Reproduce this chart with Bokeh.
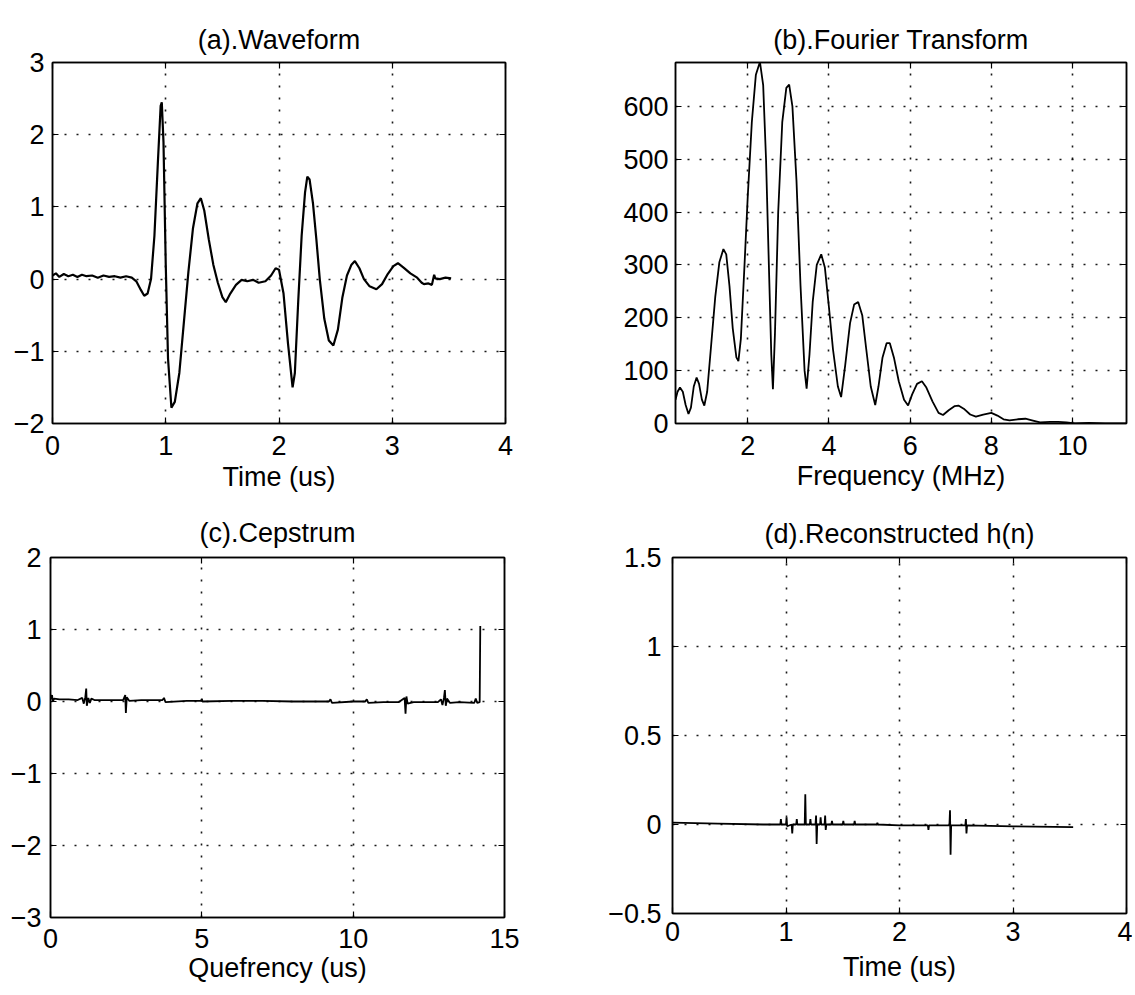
from bokeh.plotting import figure
from bokeh.layouts import column, row
from bokeh.models import Range1d, LinearAxis, FixedTicker
from bokeh.embed import file_html
from bokeh.resources import INLINE

FONT = "Liberation Sans"

# ---------------- (a) Waveform ----------------
wave_t = [0.00, 0.03, 0.06, 0.10, 0.14, 0.18, 0.22, 0.26, 0.30, 0.35, 0.40, 0.45, 0.50, 0.55,
          0.60, 0.65, 0.70, 0.74, 0.78, 0.81, 0.84, 0.87, 0.90, 0.93, 0.955, 0.965, 0.98, 1.00, 1.02,
          1.05, 1.08, 1.12, 1.16, 1.20, 1.24, 1.28, 1.31, 1.34, 1.38, 1.42, 1.46, 1.50, 1.53,
          1.57, 1.62, 1.67, 1.72, 1.77, 1.82, 1.88, 1.93, 1.97, 2.00, 2.04, 2.08, 2.12, 2.14,
          2.17, 2.20, 2.23, 2.25, 2.27, 2.30, 2.33, 2.36, 2.40, 2.44, 2.48, 2.52, 2.56, 2.60, 2.64,
          2.67, 2.71, 2.75, 2.80, 2.86, 2.91, 2.96, 3.01, 3.05, 3.10, 3.16, 3.22, 3.26, 3.28,
          3.32, 3.35, 3.37, 3.38, 3.42, 3.47, 3.52]
wave_v = [0.05, 0.08, 0.03, 0.07, 0.04, 0.06, 0.03, 0.06, 0.04, 0.05, 0.02, 0.05, 0.03, 0.04,
          0.02, 0.04, 0.02, -0.03, -0.15, -0.23, -0.20, 0.00, 0.60, 1.60, 2.40, 2.45, 1.90, 0.20, -1.10,
          -1.78, -1.70, -1.30, -0.60, 0.10, 0.70, 1.05, 1.12, 0.95, 0.55, 0.20, -0.05, -0.25, -0.32,
          -0.20, -0.08, -0.01, -0.03, -0.01, -0.05, -0.03, 0.05, 0.15, 0.13, -0.20, -0.90, -1.50, -1.30,
          -0.30, 0.60, 1.20, 1.42, 1.38, 1.05, 0.55, 0.00, -0.55, -0.85, -0.92, -0.70, -0.25, 0.05, 0.20,
          0.25, 0.15, 0.00, -0.10, -0.14, -0.07, 0.07, 0.18, 0.22, 0.16, 0.08, 0.02, -0.05, -0.07,
          -0.06, -0.08, 0.06, 0.01, 0.00, 0.02, 0.01]

# ---------------- (b) Fourier Transform ----------------
freq = [0.22, 0.27, 0.33, 0.40, 0.47, 0.54, 0.60, 0.67, 0.74, 0.80, 0.87, 0.93, 1.00, 1.10,
        1.20, 1.30, 1.40, 1.47, 1.55, 1.63, 1.72, 1.77, 1.83, 1.92, 2.00, 2.10, 2.20, 2.30,
        2.38, 2.45, 2.52, 2.58, 2.62, 2.67, 2.75, 2.85, 2.95, 3.02, 3.10, 3.20, 3.30, 3.40,
        3.45, 3.52, 3.60, 3.70, 3.81, 3.90, 4.00, 4.10, 4.22, 4.30, 4.40, 4.52, 4.62, 4.72,
        4.82, 4.92, 5.03, 5.14, 5.22, 5.32, 5.42, 5.50, 5.60, 5.72, 5.85, 5.95, 6.05, 6.17,
        6.29, 6.40, 6.55, 6.70, 6.81, 6.95, 7.10, 7.19, 7.32, 7.48, 7.62, 7.80, 8.00, 8.15,
        8.30, 8.45, 8.65, 8.84, 9.00, 9.20, 9.45, 9.65, 9.85, 10.06, 10.40, 10.80, 11.33]
ft_mag = [45, 60, 68, 60, 35, 18, 30, 70, 87, 75, 45, 34, 60, 150,
          240, 305, 330, 320, 260, 180, 125, 118, 160, 300, 430, 570, 660, 684,
          640, 500, 300, 130, 65, 170, 400, 570, 635, 641, 600, 460, 260, 100,
          66, 130, 230, 300, 320, 295, 220, 140, 70, 50, 110, 190, 225, 230,
          205, 140, 70, 35, 70, 125, 152, 152, 125, 80, 45, 34, 55, 75,
          80, 68, 42, 20, 16, 25, 33, 34, 28, 17, 13, 17, 20, 15,
          8, 6, 8, 9, 6, 2, 3, 3, 2, 0, 1, 0, 0]

# ---------------- (c) Cepstrum ----------------
quef = [0.00, 0.05, 0.08, 0.12, 0.30, 0.60, 0.90, 1.05, 1.10, 1.15, 1.18, 1.20, 1.25, 1.30,
        1.35, 1.45, 1.60, 2.00, 2.40, 2.47, 2.49, 2.52, 2.60, 3.00, 3.70, 3.75, 3.80, 4.50,
        4.98, 5.00, 5.02, 6.00, 7.00, 8.00, 9.00, 9.20, 9.25, 9.30, 10.00, 10.40, 10.45, 10.50,
        11.00, 11.50, 11.70, 11.73, 11.76, 11.80, 12.00, 12.80, 12.90, 12.95, 13.00, 13.03, 13.06,
        13.10, 13.20, 13.50, 14.00, 14.05, 14.10, 14.18, 14.20]
cep = [0.03, 0.09, 0.00, 0.04, 0.03, 0.03, 0.02, 0.05, -0.03, 0.06, 0.18, -0.06, 0.05, -0.02,
       0.04, 0.02, 0.02, 0.02, 0.02, 0.09, -0.16, 0.06, 0.01, 0.02, 0.02, 0.05, -0.01, 0.01,
       0.01, 0.04, 0.00, 0.01, 0.01, 0.00, 0.00, 0.00, 0.03, -0.02, 0.00, 0.00, 0.03, -0.02,
       -0.01, -0.01, 0.05, -0.17, 0.07, -0.03, -0.01, -0.01, 0.03, -0.05, 0.05, 0.16, -0.06,
       0.04, -0.02, -0.01, -0.02, 0.04, -0.02, -0.01, 1.05]

# ---------------- (d) Reconstructed h(n) ----------------
rec_t = [0.00, 0.40, 0.80, 0.95, 0.955, 0.96, 1.00, 1.005, 1.01, 1.05, 1.055, 1.06,
         1.09, 1.095, 1.10, 1.165, 1.17, 1.175, 1.21, 1.215, 1.22, 1.26, 1.265, 1.27, 1.275,
         1.30, 1.305, 1.31, 1.34, 1.345, 1.35, 1.355, 1.40, 1.405, 1.41, 1.50, 1.505, 1.51,
         1.60, 1.605, 1.61, 1.80, 1.805, 1.81, 2.00, 2.25, 2.255, 2.26, 2.44, 2.445, 2.45, 2.455,
         2.58, 2.585, 2.59, 2.595, 3.00, 3.53]
rec_h = [0.010, 0.005, 0.000, 0.000, 0.030, 0.000, 0.000, 0.040, -0.010, 0.000, -0.050, 0.000,
         0.000, 0.030, 0.000, 0.000, 0.170, 0.000, 0.000, 0.030, 0.000, 0.000, 0.050, -0.110, 0.000,
         0.000, 0.040, 0.000, 0.000, 0.050, -0.030, 0.000, 0.000, 0.020, 0.000, 0.000, 0.020, 0.000,
         0.000, 0.020, 0.000, 0.000, 0.010, 0.000, -0.005, -0.005, -0.030, -0.005, -0.005, 0.080, -0.170, -0.005,
         -0.005, 0.030, -0.050, -0.005, -0.010, -0.015]

# ticks
a_xticks = [0, 1, 2, 3, 4]
a_yticks = [-2, -1, 0, 1, 2, 3]
b_xticks = [2, 4, 6, 8, 10]
b_yticks = [0, 100, 200, 300, 400, 500, 600]
c_xticks = [0, 5, 10, 15]
c_yticks = [-3, -2, -1, 0, 1, 2]
d_xticks = [0, 1, 2, 3, 4]
d_yticks = [-0.5, 0, 0.5, 1, 1.5]


def lab(v):
    s = ("%g" % v)
    return s.replace("-", "\u2212")


def make(xr, yr, xt, yt, title, xlabel, fw, fh, bl, bt, br, bb,
         title_standoff, tick_standoff, label_standoff, ylab_standoff):
    p = figure(frame_width=fw, frame_height=fh,
               min_border_left=bl, min_border_top=bt, min_border_right=br, min_border_bottom=bb,
               x_range=Range1d(*xr), y_range=Range1d(*yr),
               output_backend="svg", toolbar_location=None,
               background_fill_color="white", border_fill_color="white")
    p.outline_line_color = "black"
    p.outline_line_width = 1.5
    p.title.text = title
    p.title.align = "center"
    p.title.text_font = FONT
    p.title.text_font_size = "27px"
    p.title.text_font_style = "normal"
    p.title.text_color = "black"
    p.title.standoff = title_standoff

    for ax, ticks in ((p.xaxis[0], xt), (p.yaxis[0], yt)):
        ax.ticker = FixedTicker(ticks=ticks, minor_ticks=[])
        ax.major_label_overrides = {t: lab(t) for t in ticks}
        ax.major_label_text_font = FONT
        ax.major_label_text_font_size = "27px"
        ax.major_label_text_color = "black"
        ax.major_tick_in = 6
        ax.major_tick_out = 0
        ax.minor_tick_line_color = None
        ax.major_tick_line_color = "black"
        ax.major_tick_line_width = 1.2
        ax.axis_line_color = "black"
        ax.axis_line_width = 1.5
    p.xaxis[0].major_label_standoff = tick_standoff
    p.yaxis[0].major_label_standoff = ylab_standoff
    p.xaxis[0].axis_label = xlabel
    p.xaxis[0].axis_label_text_font = FONT
    p.xaxis[0].axis_label_text_font_size = "27px"
    p.xaxis[0].axis_label_text_font_style = "normal"
    p.xaxis[0].axis_label_text_color = "black"
    p.xaxis[0].axis_label_standoff = label_standoff

    # box ticks on top and right (labels not drawn)
    top = LinearAxis(ticker=FixedTicker(ticks=xt, minor_ticks=[]))
    right = LinearAxis(ticker=FixedTicker(ticks=yt, minor_ticks=[]))
    for ax in (top, right):
        ax.major_label_text_font_size = "1px"
        ax.major_label_text_color = None
        ax.major_label_standoff = 0
        ax.major_tick_in = 6
        ax.major_tick_out = 0
        ax.minor_tick_line_color = None
        ax.major_tick_line_color = "black"
        ax.major_tick_line_width = 1.2
        ax.axis_line_color = "black"
        ax.axis_line_width = 1.5
    p.add_layout(top, "above")
    p.add_layout(right, "right")

    p.grid.grid_line_color = "black"
    p.grid.grid_line_width = 1.6
    p.grid.grid_line_dash = "2 10"
    p.grid.grid_line_alpha = 0.9
    return p


pa = make((0, 4), (-2, 3), a_xticks, a_yticks, "(a).Waveform", "Time (us)",
          453, 361, 52, 57, 62, 80, 15, 12, 4, 8)
pa.line(wave_t, wave_v, line_color="black", line_width=2.2)

pb = make((0.22, 11.33), (0, 683), b_xticks, b_yticks, "(b).Fourier Transform", "Frequency (MHz)",
          451, 361, 108, 62, 6, 75, 15, 12, 3, 7)
pb.line(freq, ft_mag, line_color="black", line_width=1.8)

pc = make((0, 15), (-3, 2), c_xticks, c_yticks, "(c).Cepstrum", "Quefrency (us)",
          454, 360, 50, 53, 63, 82, 19, 11, 2, 9)
pc.line(quef, cep, line_color="black", line_width=1.8)

pd = make((0, 4), (-0.5, 1.5), d_xticks, d_yticks, "(d).Reconstructed h(n)", "Time (us)",
          454, 356, 105, 59, 6, 80, 17, 8, 8, 11)
pd.line(rec_t, rec_h, line_color="black", line_width=1.8)

layout = column(row(pa, pb), row(pc, pd))
open("out.html", "w").write(file_html(layout, INLINE))
